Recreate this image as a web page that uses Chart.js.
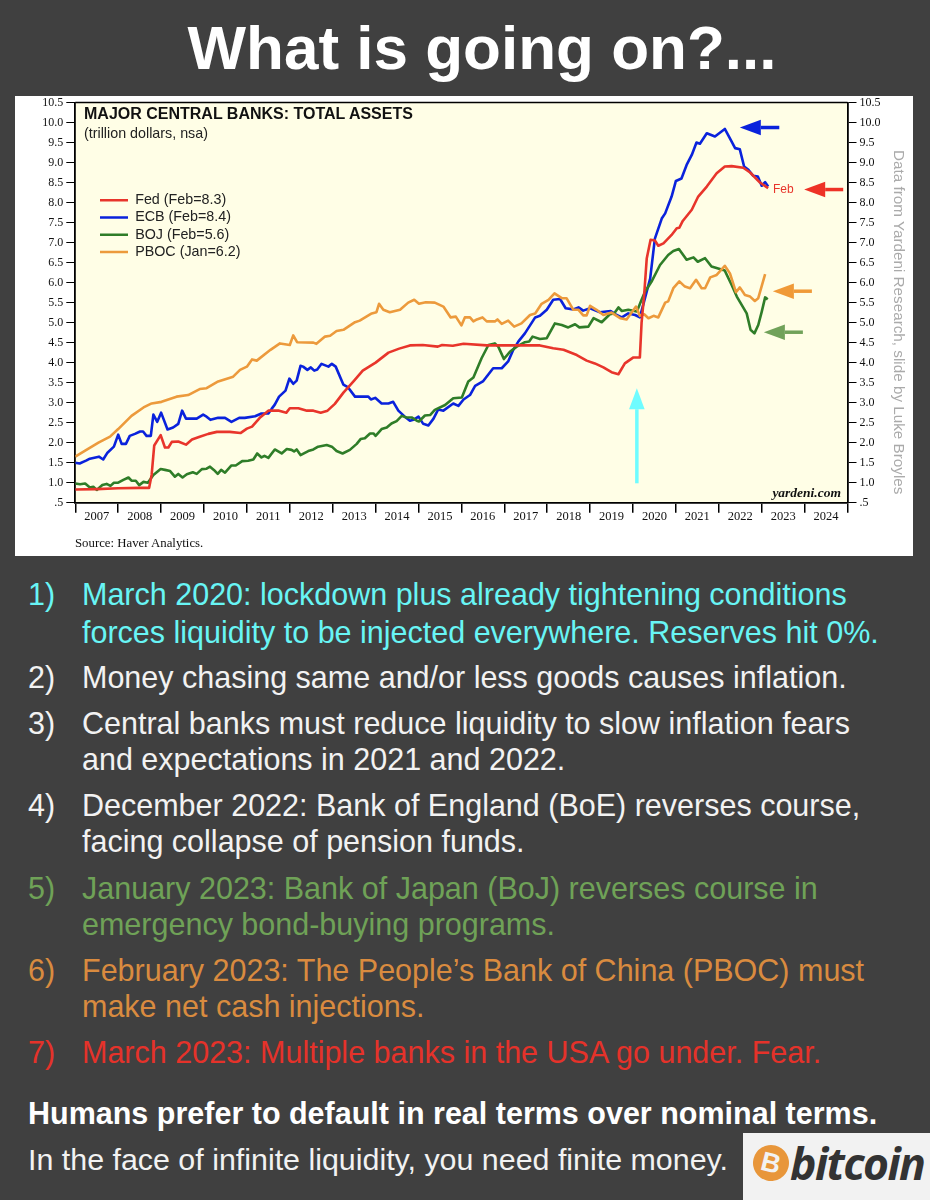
<!DOCTYPE html>
<html><head><meta charset="utf-8">
<script src="https://cdn.jsdelivr.net/npm/chart.js@4"></script>
<style>
html,body{margin:0;padding:0;background:#404040;}
body{position:relative;width:930px;height:1200px;overflow:hidden;font-family:"Liberation Sans",Arial,sans-serif;}
#title{position:absolute;left:0;width:964px;top:5.5px;text-align:center;color:#fff;font-weight:bold;font-size:62px;line-height:84px;}
#box{position:absolute;left:15px;top:96px;width:898px;height:460px;background:#fff;}
#box canvas{position:absolute;left:0;top:0;}
.o{position:absolute;white-space:nowrap;}
.ln{position:absolute;white-space:nowrap;font-size:30.5px;line-height:38px;height:38px;}
#logo{position:absolute;left:743px;top:1133px;width:187px;height:67px;background:#f2f2f2;}
#coin{position:absolute;left:10px;top:12px;width:36px;height:36px;border-radius:50%;background:#e8963a;color:#f2f2f2;font:bold 27px/36px "Liberation Sans";text-align:center;transform:rotate(14deg);}
#word{position:absolute;left:47px;top:-5px;font:italic bold 44.5px/70px "Open Sans";color:#333;letter-spacing:-1.6px;}
</style></head><body>
<div id="title">What is going on?...</div>
<div id="box">
<canvas id="c" width="898" height="460"></canvas>
<div class="o" style="left:69px;top:9px;font:bold 16px/18px 'Liberation Sans';color:#111;">MAJOR CENTRAL BANKS: TOTAL ASSETS</div>
<div class="o" style="left:69px;top:28px;font:14.3px/18px 'Liberation Sans';color:#222;">(trillion dollars, nsa)</div>
<div class="o" style="left:758px;top:85px;font:12px/16px 'Liberation Sans';color:#e8352b;">Feb</div>
<div class="o" style="right:72px;top:388px;font:italic bold 13.5px/18px 'Liberation Serif';color:#111;">yardeni.com</div>
<div class="o" style="left:60px;top:439px;font:12.8px/16px 'Liberation Serif';color:#111;">Source: Haver Analytics.</div>
<div class="o" style="left:874px;top:54px;writing-mode:vertical-rl;font:15.25px/20px 'Liberation Sans';color:#aaa;">Data from Yardeni Research, slide by Luke Broyles</div>
</div>
<div id="text"></div>
<div id="logo"><div id="coin">B</div><div id="word">bitcoin</div></div>
<script>
const yTicks=[.5,1,1.5,2,2.5,3,3.5,4,4.5,5,5.5,6,6.5,7,7.5,8,8.5,9,9.5,10,10.5];
const seriesNames=["Fed (Feb=8.3)","ECB (Feb=8.4)","BOJ (Feb=5.6)","PBOC (Jan=6.2)"];
const fedYears=[2007,2007.5,2008,2008.5,2008.72,2008.78,2008.84,2008.99,2009.09,2009.17,2009.25,2009.4,2009.58,2009.72,2009.9,2010.1,2010.3,2010.6,2010.85,2011,2011.12,2011.3,2011.5,2011.75,2011.92,2012,2012.2,2012.4,2012.55,2012.72,2012.88,2013.05,2013.25,2013.5,2013.7,2014,2014.3,2014.55,2014.8,2015.1,2015.45,2015.55,2015.8,2016.05,2016.59,2017.83,2018.14,2018.38,2018.69,2018.92,2019.11,2019.31,2019.5,2019.66,2019.81,2020.01,2020.16,2020.2,2020.26,2020.32,2020.41,2020.51,2020.59,2020.71,2020.9,2021.02,2021.08,2021.16,2021.37,2021.52,2021.72,2021.95,2022.14,2022.3,2022.57,2022.73,2022.96,2023.15];
const fedValues=[.83,.84,.86,.87,.87,1.2,1.93,2.19,1.88,1.88,2.02,2.03,1.95,2.08,2.15,2.22,2.27,2.27,2.24,2.35,2.4,2.62,2.8,2.8,2.75,2.86,2.86,2.8,2.8,2.75,2.8,2.97,3.25,3.55,3.8,4,4.25,4.35,4.43,4.44,4.4,4.44,4.42,4.47,4.43,4.43,4.36,4.32,4.19,4.05,3.98,3.88,3.76,3.71,3.98,4.13,4.13,5,5.69,6.6,7.07,7.05,6.92,6.98,7.19,7.36,7.37,7.54,7.82,8.15,8.4,8.73,8.9,8.91,8.87,8.75,8.5,8.36];
const ecbYears=[2007,2007.1,2007.25,2007.34,2007.55,2007.65,2007.75,2007.9,2008,2008.08,2008.18,2008.27,2008.39,2008.51,2008.58,2008.66,2008.76,2008.82,2008.91,2009,2009.15,2009.28,2009.4,2009.49,2009.58,2009.83,2009.98,2010.06,2010.15,2010.33,2010.49,2010.64,2010.82,2010.95,2011.19,2011.34,2011.5,2011.58,2011.65,2011.75,2011.9,2011.99,2012.08,2012.16,2012.25,2012.31,2012.41,2012.49,2012.57,2012.64,2012.74,2012.9,2012.98,2013.07,2013.25,2013.36,2013.52,2013.83,2013.89,2013.99,2014.14,2014.3,2014.41,2014.53,2014.68,2014.8,2014.9,2015,2015.11,2015.23,2015.35,2015.46,2015.58,2015.81,2015.93,2016.05,2016.2,2016.32,2016.51,2016.74,2016.94,2017.09,2017.21,2017.33,2017.48,2017.72,2017.83,2017.99,2018.14,2018.3,2018.43,2018.61,2018.73,2018.84,2019,2019.23,2019.48,2019.62,2019.74,2019.89,2020.05,2020.16,2020.4,2020.51,2020.67,2020.75,2020.9,2021,2021.13,2021.25,2021.37,2021.48,2021.56,2021.72,2021.91,2022.14,2022.3,2022.38,2022.49,2022.59,2022.69,2022.8,2022.91,2023,2023.08,2023.15];
const ecbValues=[1.5,1.48,1.55,1.6,1.65,1.58,1.75,1.9,2.2,1.97,1.97,2.17,2.22,2.28,2.28,2.17,2.17,2.7,2.52,2.75,2.33,2.38,2.47,2.8,2.6,2.6,2.7,2.65,2.57,2.62,2.62,2.52,2.62,2.62,2.66,2.73,2.73,2.85,2.95,3.15,3.3,3.6,3.47,3.55,3.92,3.9,3.82,3.88,3.8,3.83,3.97,3.9,3.97,3.9,3.45,3.38,3.15,3.15,3.08,3.12,2.98,2.98,3.02,2.8,2.65,2.55,2.58,2.65,2.47,2.43,2.6,2.83,2.8,2.98,2.92,3.08,3.19,3.42,3.54,3.86,3.86,4.03,4.32,4.53,4.73,5.13,5.17,5.32,5.57,5.59,5.36,5.33,5.38,5.3,5.36,5.26,5.29,5.19,5.13,5.23,5.19,5.13,6.1,7.1,7.6,7.73,8.15,8.54,8.6,8.94,9.19,9.5,9.47,9.73,9.65,9.84,9.52,9.36,9.33,8.9,8.82,8.67,8.65,8.42,8.51,8.4];
const bojYears=[2007,2007.11,2007.23,2007.34,2007.42,2007.5,2007.63,2007.73,2007.82,2007.9,2008,2008.12,2008.24,2008.31,2008.41,2008.49,2008.59,2008.69,2008.82,2008.99,2009.09,2009.21,2009.32,2009.4,2009.5,2009.6,2009.74,2009.83,2009.95,2010.06,2010.14,2010.23,2010.32,2010.4,2010.49,2010.64,2010.74,2010.89,2011.03,2011.15,2011.24,2011.34,2011.41,2011.5,2011.65,2011.81,2011.93,2012.04,2012.1,2012.16,2012.25,2012.43,2012.55,2012.66,2012.86,2012.98,2013.09,2013.23,2013.4,2013.56,2013.65,2013.75,2013.87,2013.95,2014,2014.14,2014.26,2014.37,2014.49,2014.61,2014.72,2014.84,2014.96,2015.01,2015.15,2015.27,2015.38,2015.62,2015.81,2016.01,2016.16,2016.28,2016.47,2016.63,2016.78,2016.86,2016.99,2017.13,2017.29,2017.48,2017.58,2017.66,2017.83,2017.99,2018.18,2018.34,2018.49,2018.65,2018.75,2018.96,2019.08,2019.27,2019.46,2019.56,2019.66,2019.74,2019.89,2020.09,2020.2,2020.28,2020.43,2020.63,2020.82,2020.94,2021.07,2021.25,2021.41,2021.51,2021.68,2021.83,2022.14,2022.3,2022.42,2022.65,2022.74,2022.83,2022.92,2023,2023.08,2023.14];
const bojValues=[.98,.96,.98,.88,.9,.82,.94,.97,.92,1,1,1.07,1.13,1.05,1.05,.94,1.02,1,1.19,1.34,1.32,1.29,1.15,1.22,1.13,1.21,1.26,1.22,1.34,1.35,1.4,1.32,1.22,1.32,1.25,1.43,1.43,1.54,1.55,1.58,1.73,1.63,1.67,1.62,1.83,1.73,1.84,1.82,1.78,1.83,1.69,1.79,1.83,1.9,1.94,1.9,1.79,1.73,1.82,1.97,2.09,2.11,2.23,2.23,2.17,2.34,2.38,2.48,2.54,2.67,2.63,2.63,2.55,2.53,2.68,2.69,2.82,2.94,3.11,3.13,3.53,3.63,4.11,4.44,4.48,4.4,4.09,4.27,4.4,4.51,4.53,4.65,4.59,4.61,4.98,4.94,4.88,4.96,4.88,4.9,5.11,5.01,5.21,5.23,5.38,5.29,5.32,5.28,5.57,5.77,6.02,6.44,6.69,6.79,6.84,6.57,6.63,6.52,6.61,6.4,6.3,5.94,5.65,5.23,4.82,4.73,4.94,5.27,5.63,5.58];
const pbocYears=[2007,2007.23,2007.54,2007.81,2008,2008.31,2008.59,2008.78,2009.01,2009.36,2009.63,2009.9,2010.06,2010.33,2010.68,2010.84,2011,2011.12,2011.23,2011.55,2011.77,2012,2012.08,2012.17,2012.55,2012.62,2012.82,2012.94,2013.09,2013.25,2013.52,2013.63,2013.91,2014.02,2014.08,2014.18,2014.33,2014.57,2014.76,2014.9,2015.01,2015.17,2015.38,2015.58,2015.75,2015.87,2016,2016.08,2016.2,2016.28,2016.36,2016.49,2016.59,2016.78,2016.84,2016.94,2017.09,2017.23,2017.4,2017.6,2017.72,2017.87,2018.03,2018.17,2018.34,2018.45,2018.61,2018.73,2018.84,2018.92,2019,2019.15,2019.31,2019.5,2019.7,2019.85,2020.07,2020.16,2020.26,2020.36,2020.48,2020.59,2020.75,2020.82,2020.94,2021.08,2021.21,2021.33,2021.47,2021.6,2021.68,2021.8,2021.95,2022.14,2022.26,2022.4,2022.49,2022.61,2022.73,2022.84,2022.92,2023.08];
const pbocValues=[1.65,1.8,2,2.15,2.34,2.67,2.88,2.98,3.02,3.15,3.19,3.34,3.36,3.53,3.65,3.82,3.9,4.08,4.05,4.32,4.48,4.44,4.68,4.51,4.5,4.47,4.65,4.67,4.79,4.82,5.01,5.05,5.23,5.26,5.47,5.32,5.26,5.32,5.5,5.57,5.47,5.51,5.5,5.4,5.13,5.15,4.93,5.13,5.13,5.03,5.08,5.13,5.03,5.03,5.08,4.97,5.05,4.9,4.98,5.19,5.23,5.47,5.57,5.73,5.61,5.61,5.32,5.32,5.18,5.18,5.42,5.32,5.19,5.25,5.11,5.08,5.4,5.17,5.21,5.11,5.17,5.13,5.5,5.53,5.86,6.03,5.9,5.86,6.07,5.86,5.86,6.13,6.19,6.42,6.23,5.76,5.88,5.69,5.65,5.54,5.61,6.21];
const seriesColors=["#e8352b","#0a22dc","#2f7d28","#ec9a3c"];
const seriesLayer=[0,3,2,1];
const arrowColor={blue:"#0a22dc",red:"#ee3226",orange:"#f09a38",green:"#71a25a",cyan:"#6ffcff"};
// [tail year, tail value, tip year, tip value, colour]
const arrows=[[2023.41,9.875,2022.49,9.875,"blue"],[2024.90,8.325,2023.99,8.325,"red"],[2024.17,5.785,2023.26,5.785,"orange"],[2023.96,4.76,2023.05,4.76,"green"],[2020.09,.985,2020.09,3.36,"cyan"]];
const textLines=[
["1)","March 2020: lockdown plus already tightening conditions",594,"#68f5f5"],
["","forces liquidity to be injected everywhere. Reserves hit 0%.",632,"#68f5f5"],
["2)","Money chasing same and/or less goods causes inflation.",677,"#f2f2f2"],
["3)","Central banks must reduce liquidity to slow inflation fears",723,"#f2f2f2"],
["","and expectations in 2021 and 2022.",759,"#f2f2f2"],
["4)","December 2022: Bank of England (BoE) reverses course,",805,"#f2f2f2"],
["","facing collapse of pension funds.",841,"#f2f2f2"],
["5)","January 2023: Bank of Japan (BoJ) reverses course in",888,"#6fa257"],
["","emergency bond-buying programs.",924,"#6fa257"],
["6)","February 2023: The People\u2019s Bank of China (PBOC) must",970,"#d98b3f"],
["","make net cash injections.",1006,"#d98b3f"],
["7)","March 2023: Multiple banks in the USA go under. Fear.",1052,"#e5322a"]];
const host=document.getElementById('text');
function addLine(x,cy,str,col,extra){const d=document.createElement('div');d.className='ln';d.style.left=x+'px';d.style.top=(cy-19)+'px';d.style.color=col;if(extra)Object.assign(d.style,extra);d.textContent=str;host.appendChild(d);}
textLines.forEach(l=>{if(l[0])addLine(28,l[2],l[0],l[3]);addLine(82,l[2],l[1],l[3]);});
addLine(28,1113,"Humans prefer to default in real terms over nominal terms.","#fff",{fontWeight:"bold"});
addLine(28,1159,"In the face of infinite liquidity, you need finite money.","#f2f2f2",{fontSize:"30.4px"});

const zip=(xs,ys)=>xs.map((x,i)=>({x,y:ys[i]}));
const allYears=[fedYears,ecbYears,bojYears,pbocYears],allValues=[fedValues,ecbValues,bojValues,pbocValues];
const datasets=seriesNames.map((n,i)=>({label:n,data:zip(allYears[i],allValues[i]),borderColor:seriesColors[i],backgroundColor:seriesColors[i],borderWidth:2.6,pointRadius:0,tension:0,order:seriesLayer[i],borderJoinStyle:'round',yAxisID:'y'}));
const fmt=v=>v<1?'.5':v.toFixed(1);
const slidePlugin={id:'slide',
 afterLayout(ch){const l=ch.legend;if(!l)return;const w=l.width,h=l.height;l.left=82;l.top=94;l.right=82+w;l.bottom=94+h;},
 beforeDraw(ch){const a=ch.chartArea,c=ch.ctx;c.save();c.fillStyle='#fffee6';c.fillRect(a.left,a.top,a.right-a.left,a.bottom-a.top);c.strokeStyle='#000';c.lineWidth=1.5;c.beginPath();c.moveTo(a.left,a.top);c.lineTo(a.right,a.top);c.stroke();c.restore();},
 afterDatasetsDraw(ch){const c=ch.ctx,X=ch.scales.x,Y=ch.scales.y;c.save();arrows.forEach(r=>{const x0=X.getPixelForValue(r[0]),y0=Y.getPixelForValue(r[1]),x1=X.getPixelForValue(r[2]),y1=Y.getPixelForValue(r[3]);const ang=Math.atan2(y1-y0,x1-x0),hl=21,hw=7.8;const bx=x1-hl*Math.cos(ang),by=y1-hl*Math.sin(ang);c.strokeStyle=c.fillStyle=arrowColor[r[4]];c.lineWidth=3.5;c.beginPath();c.moveTo(x0,y0);c.lineTo(bx,by);c.stroke();c.beginPath();c.moveTo(x1,y1);c.lineTo(bx+hw*Math.sin(ang),by-hw*Math.cos(ang));c.lineTo(bx-hw*Math.sin(ang),by+hw*Math.cos(ang));c.closePath();c.fill();});c.restore();}
};
const yScale=(pos)=>({type:'linear',position:pos,min:.5,max:10.5,afterBuildTicks(s){s.ticks=yTicks.map(v=>({value:v}));},
 grid:{drawOnChartArea:false,drawTicks:true,tickLength:9,tickColor:'#000',lineWidth:1},
 border:{display:true,color:'#000',width:1.8},
 ticks:{callback:fmt,autoSkip:false,padding:3,color:'#111',font:{family:'"Liberation Serif"',size:12}},
 afterFit(s){s.width=pos==='left'?60.3:65.5;s.paddingTop=0;s.paddingBottom=0;}});
new Chart(document.getElementById('c'),{type:'line',data:{datasets},plugins:[slidePlugin],options:{
 responsive:false,animation:false,devicePixelRatio:1,parsing:true,
 layout:{padding:{top:6.5,left:0,right:0,bottom:0}},
 plugins:{tooltip:{enabled:false},title:{display:false},
  legend:{display:true,position:'chartArea',align:'start',labels:{boxWidth:28,boxHeight:2.5,padding:3,color:'#222',font:{family:'"Liberation Sans"',size:14.3,lineHeight:1.2},
   generateLabels(ch){return ch.data.datasets.map((d,i)=>({text:d.label,fillStyle:d.borderColor,strokeStyle:d.borderColor,lineWidth:0,datasetIndex:i,fontColor:'#222'}));}}}},
 scales:{
  x:{type:'linear',min:2007,max:2025,afterBuildTicks(s){s.ticks=Array.from({length:19},(_, i)=>({value:2007+i}));},
   grid:{drawOnChartArea:false,drawTicks:true,tickLength:10,tickColor:'#000',lineWidth:1.5},
   border:{display:true,color:'#000',width:1.8},
   ticks:{callback:v=>v<2025?String(v):'',autoSkip:false,maxRotation:0,labelOffset:21.45,padding:-3,color:'#111',font:{family:'"Liberation Serif"',size:12.5}},
   afterFit(s){s.height=53.3;s.paddingLeft=0;s.paddingRight=0;}},
  y:yScale('left'),
  y2:yScale('right')
 }}});
</script>
</body></html>
